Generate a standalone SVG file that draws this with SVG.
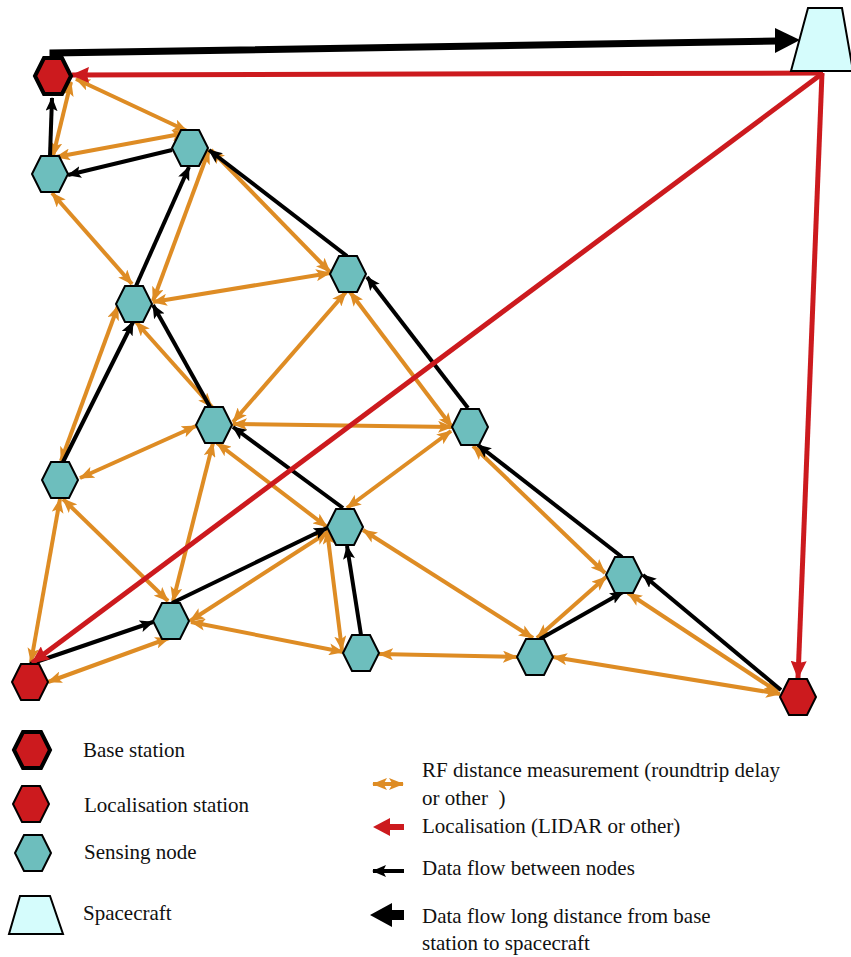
<svg xmlns="http://www.w3.org/2000/svg" width="851" height="957" viewBox="0 0 851 957">
<defs>
<marker id="oh" viewBox="0 0 15 12" refX="14" refY="6" markerWidth="15" markerHeight="12" markerUnits="userSpaceOnUse" orient="auto-start-reverse"><path d="M0,0 L15,6 L0,12 L3.5,6 z" fill="#DE8C24"/></marker>
<marker id="bh" viewBox="0 0 14 12" refX="13" refY="6" markerWidth="14" markerHeight="12" markerUnits="userSpaceOnUse" orient="auto"><path d="M0,0 L14,6 L0,12 L3,6 z" fill="#000"/></marker>
<marker id="rh" viewBox="0 0 18 16" refX="17" refY="8" markerWidth="18" markerHeight="16" markerUnits="userSpaceOnUse" orient="auto"><path d="M0,0 L18,8 L0,16 L2,8 z" fill="#CC1A1E"/></marker>
<polygon id="hex" points="-18,0 -9,-18 9,-18 18,0 9,18 -9,18"/>
</defs>
<style>
.rf{stroke:#DE8C24;stroke-width:4;fill:none;marker-start:url(#oh);marker-end:url(#oh)}
.df{stroke:#000;stroke-width:4;fill:none;marker-end:url(#bh)}
.lz{stroke:#CC1A1E;stroke-width:5;fill:none;marker-end:url(#rh)}
.sn{fill:#6DBEBD;stroke:#000;stroke-width:2}
.ls{fill:#CC1A1E;stroke:#000;stroke-width:2}
.bs{fill:#CC1A1E;stroke:#000;stroke-width:4}
.sc{fill:#D5FCFC;stroke:#000;stroke-width:2}
.t{font-size:21px;fill:#111}
</style>
<g id="connectors">
<g id="rf-links">
<line class="rf" x1="71" y1="82" x2="53" y2="156"/>
<line class="rf" x1="76" y1="79" x2="187" y2="131"/>
<line class="rf" x1="56" y1="157" x2="186" y2="133"/>
<line class="rf" x1="52" y1="193" x2="132" y2="284"/>
<line class="rf" x1="209" y1="150" x2="153" y2="301"/>
<line class="rf" x1="211" y1="150" x2="330" y2="272"/>
<line class="rf" x1="153" y1="302" x2="330" y2="273"/>
<line class="rf" x1="118" y1="306" x2="61" y2="461"/>
<line class="rf" x1="136" y1="322" x2="212" y2="407"/>
<line class="rf" x1="346" y1="292" x2="233" y2="422"/>
<line class="rf" x1="350" y1="292" x2="452" y2="427"/>
<line class="rf" x1="233" y1="424" x2="452" y2="427"/>
<line class="rf" x1="196" y1="426" x2="80" y2="478"/>
<line class="rf" x1="217" y1="443" x2="327" y2="527"/>
<line class="rf" x1="213" y1="443" x2="173" y2="601"/>
<line class="rf" x1="451" y1="431" x2="347" y2="508"/>
<line class="rf" x1="473" y1="446" x2="605" y2="573"/>
<line class="rf" x1="63" y1="499" x2="168" y2="601"/>
<line class="rf" x1="60" y1="499" x2="31" y2="662"/>
<line class="rf" x1="169" y1="638" x2="48" y2="682"/>
<line class="rf" x1="190" y1="621" x2="328" y2="532"/>
<line class="rf" x1="191" y1="622" x2="343" y2="652"/>
<line class="rf" x1="327" y1="530" x2="342" y2="650"/>
<line class="rf" x1="363" y1="530" x2="533" y2="638"/>
<line class="rf" x1="379" y1="654" x2="517" y2="657"/>
<line class="rf" x1="537" y1="638" x2="606" y2="577"/>
<line class="rf" x1="553" y1="657" x2="780" y2="694"/>
<line class="rf" x1="628" y1="593" x2="778" y2="692"/>
</g>
<g id="data-links">
<line class="df" x1="50" y1="156" x2="52" y2="98"/>
<line class="df" x1="172" y1="150" x2="68" y2="175"/>
<line class="df" x1="136" y1="286" x2="189" y2="167"/>
<line class="df" x1="347" y1="256" x2="209" y2="150"/>
<line class="df" x1="210" y1="407" x2="153" y2="305"/>
<line class="df" x1="63" y1="462" x2="133" y2="322"/>
<line class="df" x1="468" y1="408" x2="367" y2="277"/>
<line class="df" x1="343" y1="508" x2="233" y2="427"/>
<line class="df" x1="622" y1="557" x2="478" y2="445"/>
<line class="df" x1="781" y1="690" x2="643" y2="575"/>
<line class="df" x1="540" y1="639" x2="623" y2="592"/>
<line class="df" x1="361" y1="635" x2="347" y2="546"/>
<line class="df" x1="172" y1="603" x2="327" y2="528"/>
<line class="df" x1="30" y1="664" x2="153" y2="622"/>
</g>
<g id="localisation-links">
<line class="lz" x1="823" y1="73" x2="72" y2="75"/>
<line class="lz" x1="823" y1="73" x2="32" y2="663"/>
<line class="lz" x1="822" y1="73" x2="798" y2="678"/>
</g>
<g id="uplink">
<polyline points="53,58 53,53 777,41" fill="none" stroke="#000" stroke-width="7"/>
<polygon points="775,28 800,40 775,53" fill="#000"/>
</g>
</g>
<g id="spacecraft"><polygon class="sc" points="808,8 842,8 853,71 791,71"/></g>
<g id="base-station"><use href="#hex" class="bs" transform="translate(53,76)"/></g>
<g id="n1"><use href="#hex" class="sn" transform="translate(50,174)"/></g>
<g id="n2"><use href="#hex" class="sn" transform="translate(190,148)"/></g>
<g id="n3"><use href="#hex" class="sn" transform="translate(348,274)"/></g>
<g id="n4"><use href="#hex" class="sn" transform="translate(134,304)"/></g>
<g id="n5"><use href="#hex" class="sn" transform="translate(214,425)"/></g>
<g id="n6"><use href="#hex" class="sn" transform="translate(470,427)"/></g>
<g id="n7"><use href="#hex" class="sn" transform="translate(60,480)"/></g>
<g id="n8"><use href="#hex" class="sn" transform="translate(345,527)"/></g>
<g id="n9"><use href="#hex" class="sn" transform="translate(624,575)"/></g>
<g id="n10"><use href="#hex" class="sn" transform="translate(171,621)"/></g>
<g id="n11"><use href="#hex" class="sn" transform="translate(361,653)"/></g>
<g id="n12"><use href="#hex" class="sn" transform="translate(535,657)"/></g>
<g id="loc1"><use href="#hex" class="ls" transform="translate(30,682)"/></g>
<g id="loc2"><use href="#hex" class="ls" transform="translate(798,697)"/></g>
<g id="legend" font-family="'Liberation Serif', 'Times New Roman', 'DejaVu Serif', serif">
<use href="#hex" class="bs" transform="translate(32,750)"/>
<text class="t" x="83" y="757">Base station</text>
<use href="#hex" class="ls" transform="translate(31,804)"/>
<text class="t" x="84" y="812">Localisation station</text>
<use href="#hex" class="sn" transform="translate(33,853)"/>
<text class="t" x="84" y="859">Sensing node</text>
<polygon class="sc" points="20,896 50,896 63,934 9,934"/>
<text class="t" x="83" y="920">Spacecraft</text>
<line class="rf" x1="373" y1="784" x2="403" y2="784"/>
<text class="t" x="422" y="777">RF distance measurement (roundtrip delay</text>
<text class="t" x="422" y="805" xml:space="preserve">or other  )</text>
<line x1="404" y1="827" x2="388" y2="827" stroke="#CC1A1E" stroke-width="6"/>
<polygon points="373,827 390,818 390,836" fill="#CC1A1E"/>
<text class="t" x="422" y="833">Localisation (LIDAR or other)</text>
<line class="df" x1="404" y1="871" x2="373" y2="871"/>
<text class="t" x="422" y="875">Data flow between nodes</text>
<polygon points="370,915 392,903 392,910 404,910 404,920 392,920 392,927" fill="#000"/>
<text class="t" x="422" y="923">Data flow long distance from base</text>
<text class="t" x="422" y="950">station to spacecraft</text>
</g>
</svg>
